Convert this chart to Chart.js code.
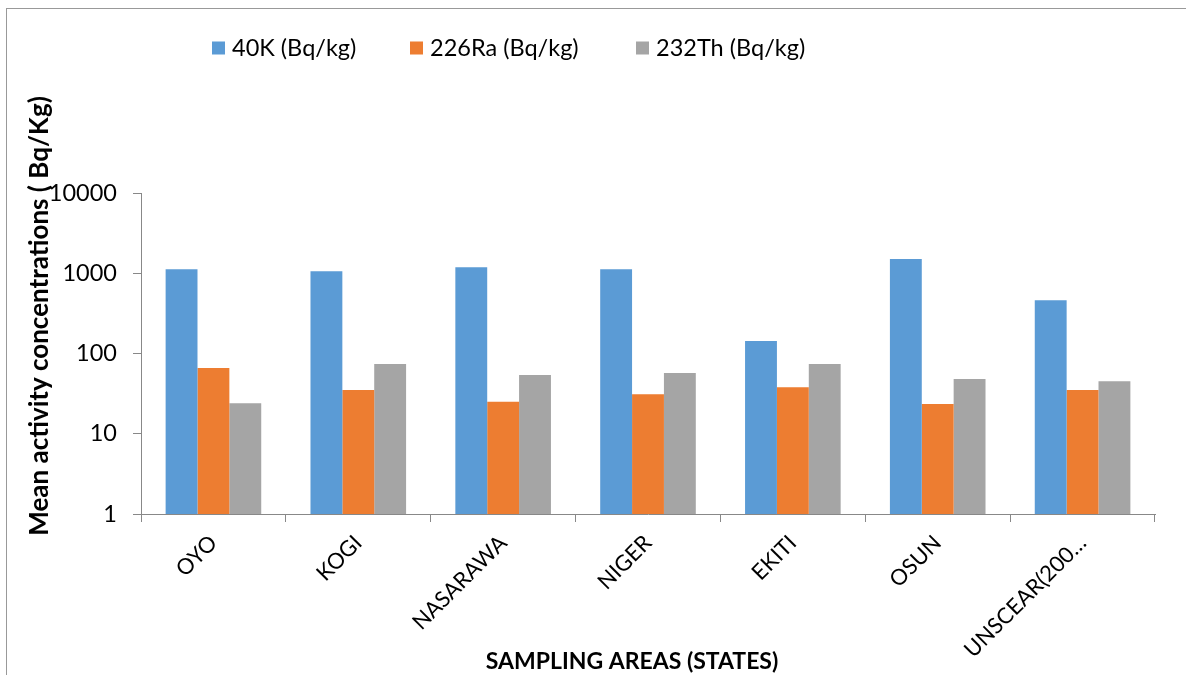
<!DOCTYPE html>
<html>
<head>
<meta charset="utf-8">
<script src="https://cdn.jsdelivr.net/npm/chart.js@4.4.1/dist/chart.umd.min.js"></script>
<style>
  html, body { margin: 0; padding: 0; background: #fff; }
  #wrap { position: relative; width: 1186px; height: 675px; overflow: hidden; }
  #frame { position: absolute; left: 6px; top: 8px; width: 1200px; height: 700px; border: 1px solid #999; box-sizing: border-box; }
  canvas { position: absolute; left: 0; top: 0; }
</style>
</head>
<body>
<div id="wrap">
  <div id="frame"></div>
  <canvas id="c" width="1186" height="675"></canvas>
</div>
<script>
const categories = ["OYO", "KOGI", "NASARAWA", "NIGER", "EKITI", "OSUN", "UNSCEAR(200…"];
const k40 = [1120, 1060, 1190, 1120, 143, 1500, 460];
const ra226 = [66, 35, 25, 31, 38, 23.5, 35];
const th232 = [24, 74, 54, 57, 74, 48, 45];
const seriesNames = ["40K (Bq/kg)", "226Ra (Bq/kg)", "232Th (Bq/kg)"];
const yTicks = [1, 10, 100, 1000, 10000];
const yTitle = "Mean activity concentrations ( Bq/Kg)";
const xTitle = "SAMPLING AREAS (STATES)";

const FONT = "Lato, 'Liberation Sans', sans-serif";
const colors = ["#5B9BD5", "#ED7D31", "#A5A5A5"];

const customLegend = {
  id: 'customLegend',
  afterDraw(chart) {
    const ctx = chart.ctx;
    ctx.save();
    ctx.font = "23.5px " + FONT;
    ctx.textBaseline = 'middle';
    ctx.textAlign = 'left';
    const starts = [212, 410, 636];
    chart.data.datasets.forEach((ds, i) => {
      const x = starts[i];
      const y = 48;
      ctx.fillStyle = ds.backgroundColor;
      ctx.fillRect(x, y - 6.5, 13, 13);
      ctx.fillStyle = '#000';
      ctx.fillText(ds.label, x + 20, y);
    });
    ctx.restore();
  }
};

const titlesPlugin = {
  id: 'titlesPlugin',
  afterDraw(chart) {
    const ctx = chart.ctx;
    ctx.save();
    ctx.fillStyle = '#000';
    ctx.textAlign = 'center';
    ctx.textBaseline = 'middle';
    ctx.font = "bold 23px " + FONT;
    ctx.fillText(xTitle, 632, 662);
    ctx.font = "bold 26px " + FONT;
    ctx.translate(40, 316);
    ctx.rotate(-Math.PI / 2);
    ctx.fillText(yTitle, 0, 0);
    ctx.restore();
  }
};

new Chart(document.getElementById('c'), {
  type: 'bar',
  data: {
    labels: categories,
    datasets: [
      { label: seriesNames[0], data: k40, backgroundColor: colors[0] },
      { label: seriesNames[1], data: ra226, backgroundColor: colors[1] },
      { label: seriesNames[2], data: th232, backgroundColor: colors[2] }
    ]
  },
  options: {
    responsive: false,
    animation: false,
    devicePixelRatio: 1,
    layout: { padding: { top: 193, right: 31, left: 0, bottom: 0 } },
    datasets: { bar: { categoryPercentage: 0.66, barPercentage: 1.0 } },
    plugins: {
      legend: { display: false },
      tooltip: { enabled: false }
    },
    scales: {
      x: {
        grid: { display: true, drawOnChartArea: false, offset: true, tickLength: 8, color: '#888' },
        border: { color: '#888' },
        ticks: { color: '#000', font: { family: FONT, size: 22 }, minRotation: 45, maxRotation: 45, padding: 8, autoSkip: false },
        title: { display: false },
        afterFit(scale) { scale.height = 161; }
      },
      y: {
        type: 'logarithmic',
        min: 1,
        max: 10000,
        grid: { display: true, drawOnChartArea: false, tickLength: 8, color: '#888' },
        border: { color: '#888' },
        afterBuildTicks(scale) { scale.ticks = yTicks.map(v => ({ value: v })); },
        ticks: { color: '#000', font: { family: FONT, size: 23.5 }, padding: 16, callback: (v) => String(v) },
        afterFit(scale) { scale.width = 141; }
      }
    }
  },
  plugins: [customLegend, titlesPlugin]
});
</script>
</body>
</html>
